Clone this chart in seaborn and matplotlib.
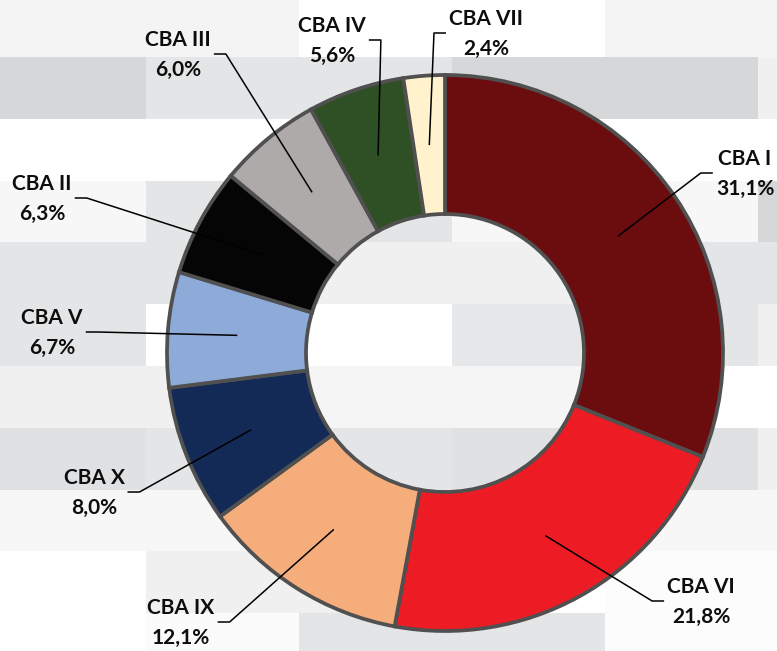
import numpy as np
import matplotlib
matplotlib.use("Agg")
import matplotlib.pyplot as plt
import seaborn as sns

# -------------------------
# data
# -------------------------
labels = ["CBA I", "CBA VI", "CBA IX", "CBA X", "CBA V", "CBA II", "CBA III", "CBA IV", "CBA VII"]
shares = [31.1, 21.8, 12.1, 8.0, 6.7, 6.3, 6.0, 5.6, 2.4]
colors = ["#6b0c0e", "#ed1c24", "#f5ad7c", "#142a56", "#8eaad8",
          "#050505", "#aeaaaa", "#2f4f24", "#fff2cc"]

# label text centres in pixel coords (x, y from top)
label_pos = [(745, 174), (701, 602), (181, 623), (94, 493), (52, 333),
             (42, 199), (178, 55), (332, 41), (486, 34)]

# background tile shades (grey byte levels), 11 rows x 6 cols
tiles = [
    [244, 244, 255, 255, 244, 244],
    [214, 228, 228, 214, 214, 240],
    [255, 255, 255, 255, 255, 255],
    [247, 228, 228, 247, 247, 214],
    [228, 228, 240, 240, 228, 228],
    [228, 255, 255, 230, 228, 240],
    [240, 240, 245, 245, 255, 255],
    [224, 228, 228, 224, 224, 240],
    [247, 247, 247, 247, 247, 247],
    [255, 240, 240, 255, 252, 252],
    [255, 251, 228, 228, 252, 252],
]

W, H = 777, 651
sns.set_theme(style="white")
plt.rcParams['font.family'] = ['Lato', 'DejaVu Sans']

fig = plt.figure(figsize=(W / 100, H / 100), dpi=100)

# background tiles
bg = fig.add_axes([-7 / W, (H - (-4.8 + 11 * 61.8)) / H, 918 / W, 11 * 61.8 / H])
cmap = sns.blend_palette(["#d6d7d9", "#ffffff"], as_cmap=True)
sns.heatmap(np.array(tiles), ax=bg, cmap=cmap, vmin=214, vmax=255, cbar=False,
            xticklabels=False, yticklabels=False)
bg.axis('off')

# donut
ax = fig.add_axes([0, 0, 1, 1])
cx, cy, r_out, ring = 445, H - 353, 278, 139
wedges, _ = ax.pie(shares, colors=colors, startangle=90, counterclock=False,
                   center=(cx, cy), radius=r_out,
                   wedgeprops=dict(width=ring, edgecolor="#505050", linewidth=2.7))
ax.set_xlim(0, W)
ax.set_ylim(0, H)
ax.axis('off')

texts = []
for name, val, (tx, ty) in zip(labels, shares, label_pos):
    s = f"{name}\n{val:.1f}%".replace(".", ",")
    t = ax.text(tx, H - ty, s, ha="center", va="center", fontsize=15,
                fontweight="bold", color="#0d0d0d", linespacing=1.65)
    texts.append(t)

fig.canvas.draw()
r_mid = r_out - ring / 2
for w, t, (tx, ty) in zip(wedges, texts, label_pos):
    ang = np.deg2rad((w.theta1 + w.theta2) / 2)
    axp, ayp = cx + r_mid * np.cos(ang), cy + r_mid * np.sin(ang)
    bb = t.get_window_extent()
    ly = H - ty + 1
    if axp > tx:
        x0 = bb.x1 + 3
        x1 = x0 + 12
    else:
        x0 = bb.x0 - 3
        x1 = x0 - 12
    ax.plot([x0, x1, axp], [ly, ly, ayp], color="black", lw=1.1, solid_capstyle="butt")

fig.savefig("out.png", dpi=100)
